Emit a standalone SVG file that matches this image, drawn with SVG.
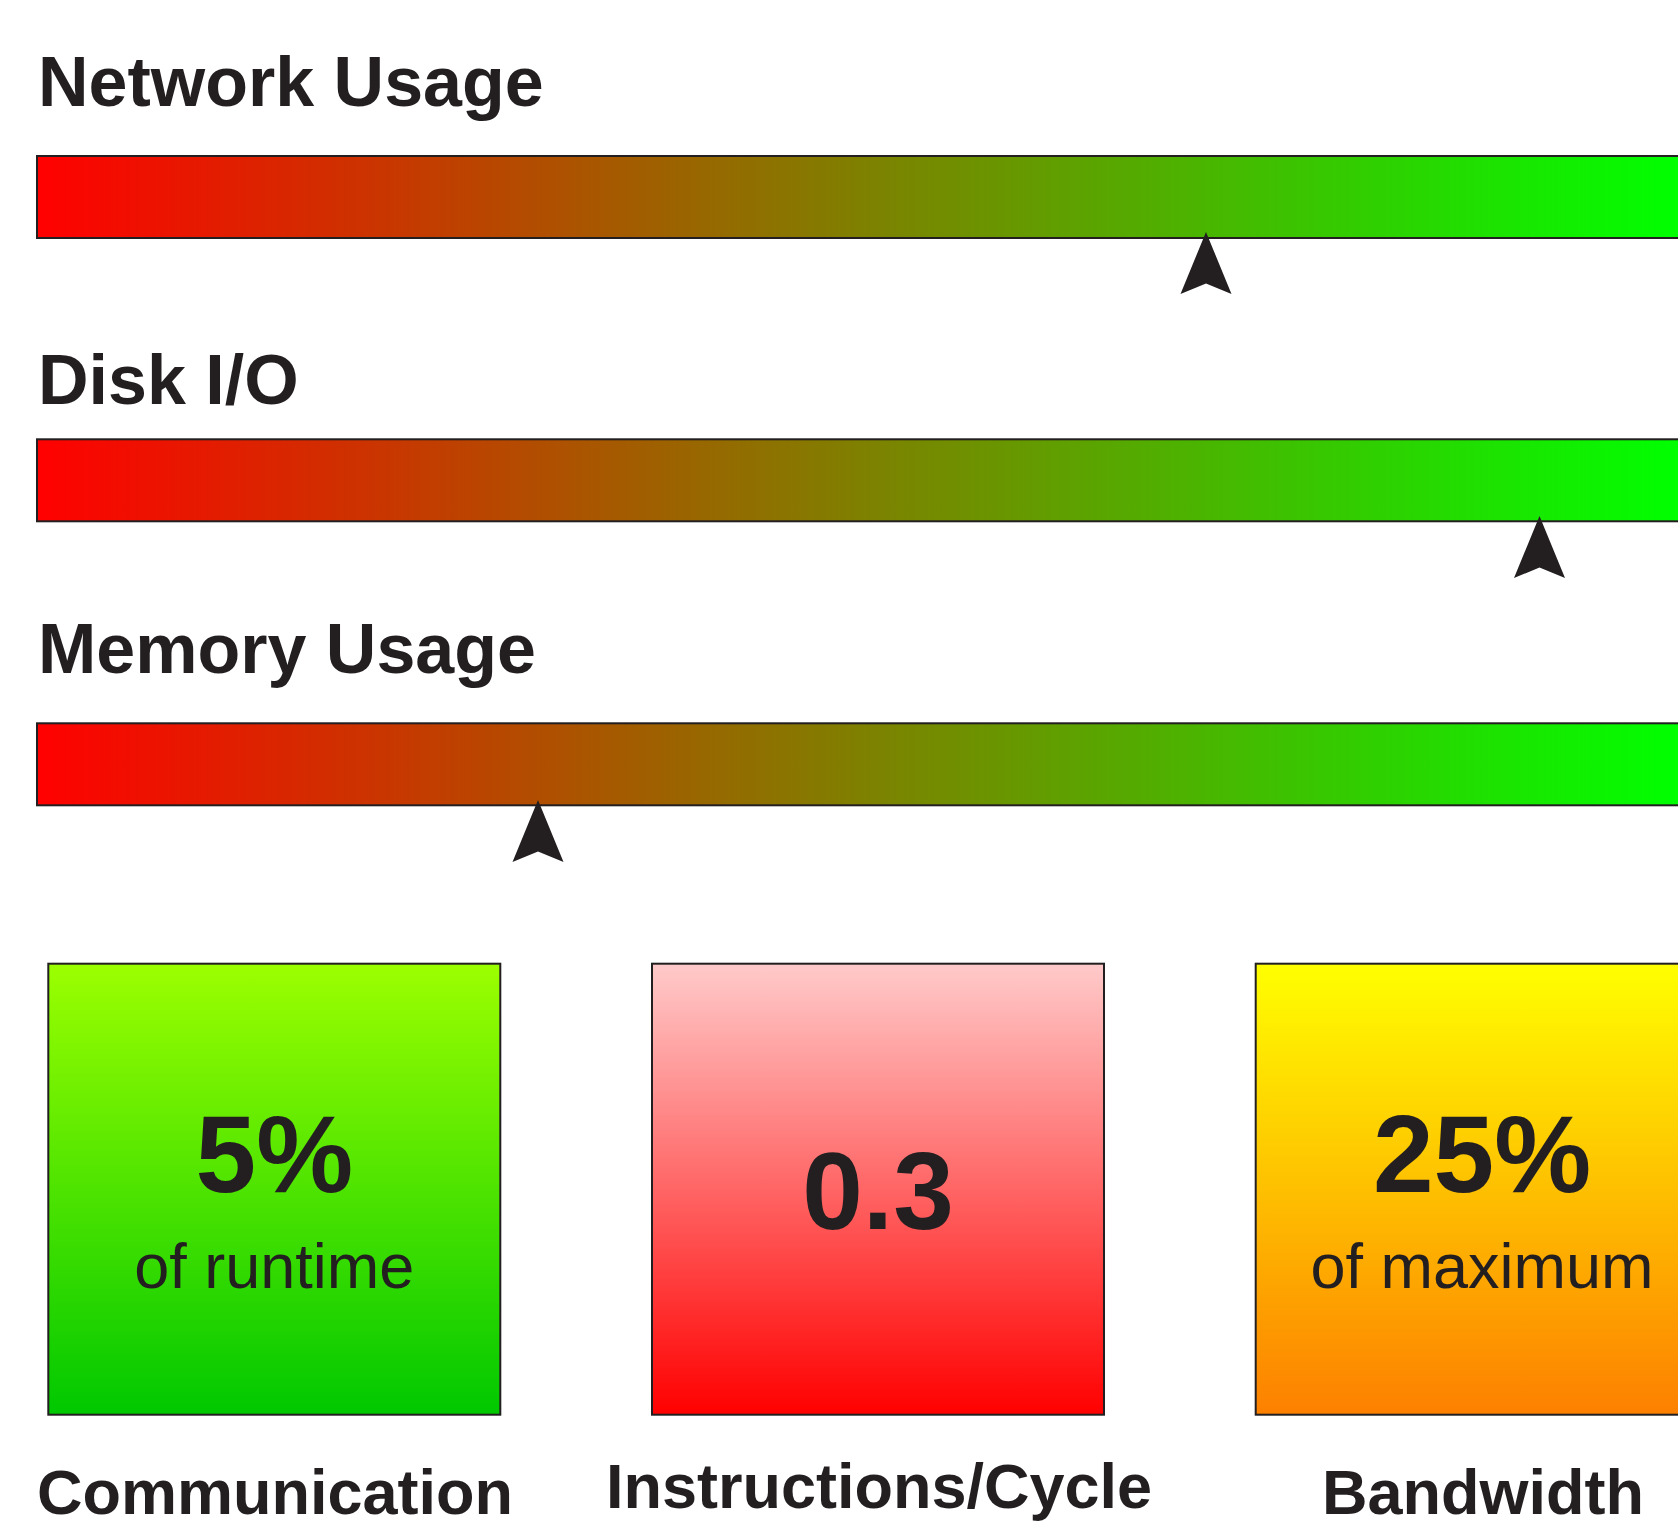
<svg xmlns="http://www.w3.org/2000/svg" xmlns:xlink="http://www.w3.org/1999/xlink" width="1678" height="1521" viewBox="0 0 1678 1521">
  <style>
    .title { font-family: "Liberation Sans", Arial, Helvetica, sans-serif; font-weight: bold; font-size: 70px; fill: #231f20; }
    .value { font-family: "Liberation Sans", Arial, Helvetica, sans-serif; font-weight: bold; font-size: 109px; fill: #231f20; text-anchor: middle; }
    .unit { font-family: "Liberation Sans", Arial, Helvetica, sans-serif; font-size: 63px; fill: #231f20; text-anchor: middle; }
    .label { font-family: "Liberation Sans", Arial, Helvetica, sans-serif; font-weight: bold; font-size: 63px; fill: #231f20; text-anchor: middle; }
    .bar { fill: url(#scale); stroke: #231f20; stroke-width: 2; }
    .tile { stroke: #231f20; stroke-width: 2; }
    .pointer { fill: #231f20; }
  </style>
  <defs>
    <!-- red (bad) to green (good) scale shared by every meter bar -->
    <linearGradient id="scale" gradientUnits="userSpaceOnUse" x1="37" y1="0" x2="1678" y2="0">
      <stop offset="0" stop-color="#ff0000"/>
      <stop offset="1" stop-color="#00ff00"/>
    </linearGradient>
    <linearGradient id="tileGreen" x1="0" y1="0" x2="0" y2="1">
      <stop offset="0" stop-color="#9cff00"/>
      <stop offset="1" stop-color="#00c800"/>
    </linearGradient>
    <linearGradient id="tileRed" x1="0" y1="0" x2="0" y2="1">
      <stop offset="0" stop-color="#ffcaca"/>
      <stop offset="1" stop-color="#ff0000"/>
    </linearGradient>
    <linearGradient id="tileOrange" x1="0" y1="0" x2="0" y2="1">
      <stop offset="0" stop-color="#ffff00"/>
      <stop offset="1" stop-color="#fd8000"/>
    </linearGradient>
    <!-- meter pointer, tip at the origin -->
    <polygon id="tick" class="pointer" points="0,0 25.5,62 0,51.5 -25.5,62"/>
  </defs>

  <g id="network-usage">
    <text class="title" x="38" y="106">Network Usage</text>
    <rect class="bar" x="37" y="156" width="1680" height="82"/>
  </g>

  <g id="disk-io">
    <text class="title" x="38" y="404">Disk I/O</text>
    <rect class="bar" x="37" y="439.3" width="1680" height="82"/>
  </g>

  <g id="memory-usage">
    <text class="title" x="38" y="673">Memory Usage</text>
    <rect class="bar" x="37" y="723.3" width="1680" height="82"/>
  </g>

  <!-- current-level pointers under each bar -->
  <g id="pointers">
    <use xlink:href="#tick" x="1206" y="232"/>
    <use xlink:href="#tick" x="1539.5" y="516"/>
    <use xlink:href="#tick" x="538" y="800"/>
  </g>

  <g id="communication">
    <rect class="tile" x="48.3" y="963.7" width="452" height="451" fill="url(#tileGreen)"/>
    <text class="value" x="274.3" y="1192">5%</text>
    <text class="unit" x="274.3" y="1288">of runtime</text>
    <text class="label" x="275" y="1514">Communication</text>
  </g>

  <g id="instructions-cycle">
    <rect class="tile" x="652" y="963.7" width="452" height="451" fill="url(#tileRed)"/>
    <text class="value" x="878" y="1228.5">0.3</text>
    <text class="label" x="879" y="1508">Instructions/Cycle</text>
  </g>

  <g id="bandwidth">
    <rect class="tile" x="1255.7" y="963.7" width="452" height="451" fill="url(#tileOrange)"/>
    <text class="value" x="1482" y="1191.7">25%</text>
    <text class="unit" x="1482" y="1288">of maximum</text>
    <text class="label" x="1483" y="1514">Bandwidth</text>
  </g>
</svg>
